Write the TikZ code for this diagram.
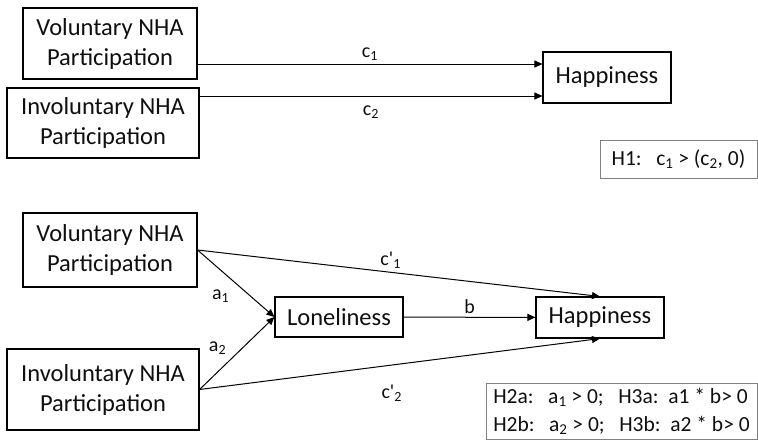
\documentclass[tikz,border=0pt]{standalone}
\usepackage{fontspec}
\setmainfont{Carlito}
\usepackage{tikz}
\usetikzlibrary{arrows.meta}
\definecolor{mytext}{RGB}{15,15,15}
\definecolor{mygray}{RGB}{128,128,128}
\tikzset{
  varbox/.style={rectangle, draw=black, line width=1.1pt, align=center,
    inner sep=0pt, font=\fontsize{24.5}{30}\selectfont, text=mytext},
  hypbox/.style={rectangle, draw=mygray, line width=1pt, align=left,
    inner sep=0pt, font=\fontsize{21.5}{28}\selectfont, text=mytext},
  arrow/.style={-{Triangle[length=8pt,width=7pt]}, line width=1pt, color=black},
  coef/.style={font=\fontsize{20}{22}\selectfont, text=mytext}
}
\begin{document}
\begin{tikzpicture}[x=1pt,y=-1pt]
  \useasboundingbox (0,0) rectangle (758,440);
  % Total effect
  \begin{scope}
    \node[varbox, minimum width=174pt, minimum height=71pt] (vol1) at (110,43.5) {Voluntary NHA\\Participation};
    \node[varbox, minimum width=192pt, minimum height=70pt] (inv1) at (103,123) {Involuntary NHA\\Participation};
    \node[varbox, minimum width=128pt, minimum height=51pt] (hap1) at (607,77.5) {Happiness};
    \node[hypbox, minimum width=157pt, minimum height=38pt] (h1) at (678.5,159) {H1:\ \ \ c\textsubscript{1} > (c\textsubscript{2}, 0)};
    \draw[arrow] (vol1.east |- 0,64) -- (hap1.west |- 0,64) node[coef, midway, above] {c\textsubscript{1}};
    \draw[arrow] (inv1.east |- 0,96) -- (hap1.west |- 0,96) node[coef, midway, below=6pt] {c\textsubscript{2}};
  \end{scope}
  % Mediation by loneliness
  \begin{scope}
    \node[varbox, minimum width=174pt, minimum height=74pt] (vol2) at (110,250) {Voluntary NHA\\Participation};
    \node[varbox, minimum width=192pt, minimum height=81pt] (inv2) at (103,389.5) {Involuntary NHA\\Participation};
    \node[varbox, minimum width=128pt, minimum height=40pt] (lone) at (339,317) {Loneliness};
    \node[varbox, minimum width=128pt, minimum height=41pt] (hap2) at (600,317.5) {Happiness};
    \node[hypbox, minimum width=271pt, minimum height=56pt] (h2) at (621.5,411)
      {H2a:\ \ \ a\textsubscript{1} > 0;\ \ \ H3a:\ \ a1 * b> 0\\H2b:\ \ \ a\textsubscript{2} > 0;\ \ \ H3b:\ \ a2 * b> 0};
    \draw[arrow] (vol2.east) -- (lone.west) node[coef, pos=0.3, below=16pt] {a\textsubscript{1}};
    \draw[arrow] (inv2.east) -- (lone.west) node[coef, pos=0.24, above=14pt] {a\textsubscript{2}};
    \draw[arrow] (vol2.east) -- (hap2.north) node[coef, pos=0.48, above] {c\textquotesingle\textsubscript{1}};
    \draw[arrow] (inv2.east) -- (hap2.south) node[coef, pos=0.48, below=16pt] {c\textquotesingle\textsubscript{2}};
    \draw[arrow] (lone) -- (hap2) node[coef, midway, above] {b};
  \end{scope}
\end{tikzpicture}
\end{document}
